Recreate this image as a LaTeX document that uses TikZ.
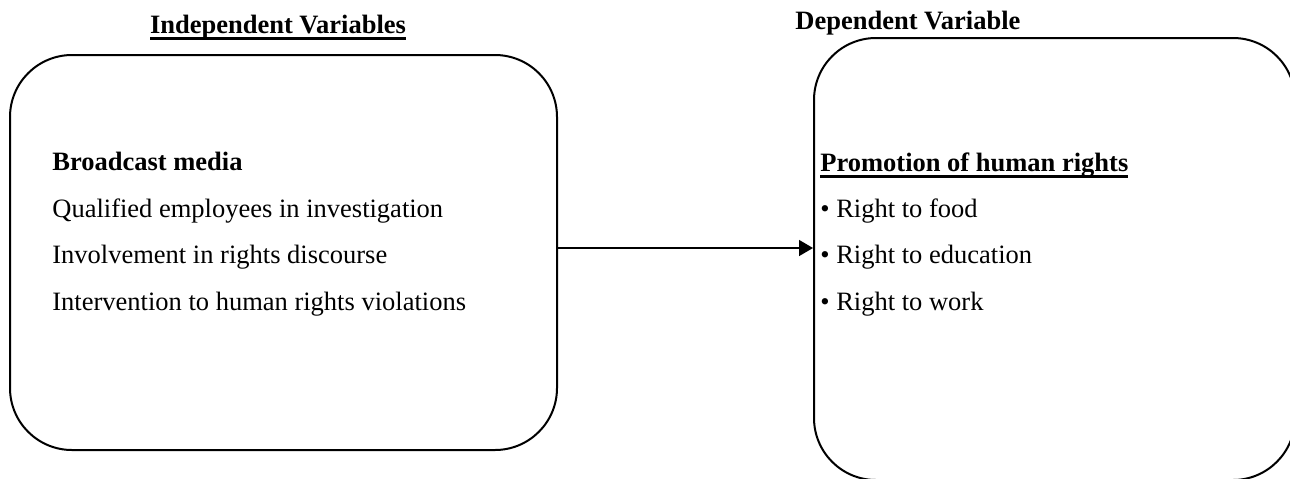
\documentclass[tikz,border=0pt]{standalone}
\usepackage{fontspec}
\setmainfont{Liberation Serif}
\usetikzlibrary{arrows.meta,positioning}

% thick underline as in the original figure
\newcommand{\ulbold}[1]{\setbox0\hbox{#1}\rlap{\vrule width\wd0 height -1.75pt depth 3.25pt}\box0}

\begin{document}
\begin{tikzpicture}[x=0.5pt,y=-0.5pt,
    varbox/.style={draw,line width=1pt,rounded corners=31pt,inner sep=0pt},
    txt/.style={anchor=base west,inner sep=0pt,font=\fontsize{13.25}{16}\selectfont},
    link/.style={-{Triangle[length=7pt,width=8pt]},line width=0.75pt}]

    \clip (0,0) rectangle (1290,478);

    % headings
    \node (ivtitle) at (278,33) [txt,anchor=base] {\ulbold{\textbf{Independent Variables}}};
    \node (dvtitle) at (795,29) [txt] {\textbf{Dependent Variable}};

    % boxes
    \node (ivbox) at (283.5,252.5) [varbox,minimum width=273.5pt,minimum height=197.5pt] {};
    \node (dvbox) at (1054.5,259) [varbox,minimum width=240.5pt,minimum height=221pt] {};

    % independent side
    \node (ivhead) at (52,170) [txt] {\textbf{Broadcast media}};
    \node (iv1) at (52,217) [txt] {Qualified employees in investigation};
    \node (iv2) at (52,263) [txt] {Involvement in rights discourse};
    \node (iv3) at (52,310) [txt] {Intervention to human rights violations};

    % dependent side
    \node (dvhead) at (820,171) [txt] {\ulbold{\textbf{Promotion of human rights}}};
    \node (dv1) at (820,217) [txt] {\textbullet\ Right to food};
    \node (dv2) at (820,263) [txt] {\textbullet\ Right to education};
    \node (dv3) at (820,310) [txt] {\textbullet\ Right to work};

    \coordinate (linkrow) at (0,248);
    \draw[link] (ivbox.east |- linkrow) -- (dvbox.west |- linkrow);

\end{tikzpicture}
\end{document}
